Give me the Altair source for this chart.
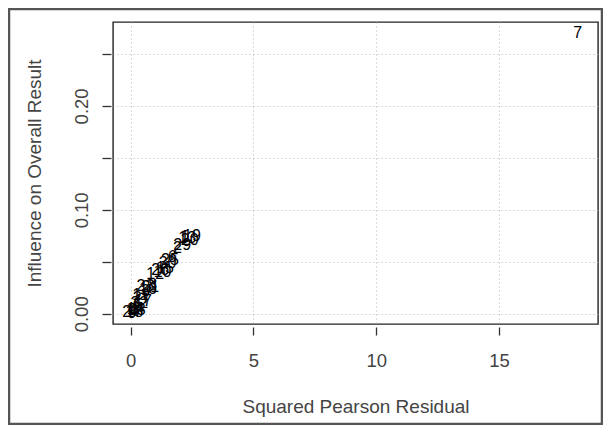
import altair as alt
import pandas as pd

study = ["1","2","3","4","5","6","7","8","9","10","11","12","13","14","15",
         "16","17","18","19","20","21","22","23","24","25","26","27","28","29","30"]
sq_resid = [2.2, 1.9, 0.6, 0.1, 0.3, 1.7, 18.2, 0.9, 0.05, 1.3, 0.4, 1.0, 2.3, 0.2, 1.4,
            0.7, 0.5, 0.15, 2.5, 2.4, 0.8, 0.35, 0.6, 0.02, 1.6, 1.2, 0.45, 0.25, 2.1, 1.5]
influence = [0.074, 0.063, 0.022, 0.003, 0.008, 0.055, 0.270, 0.028, 0.001, 0.040, 0.018, 0.038,
             0.073, 0.005, 0.044, 0.024, 0.012, 0.002, 0.075, 0.071, 0.026, 0.010, 0.027, 0.002,
             0.052, 0.042, 0.015, 0.004, 0.066, 0.049]

x_ticks = [0, 5, 10, 15]
y_ticks = [0.0, 0.05, 0.10, 0.15, 0.20, 0.25]

df = pd.DataFrame({"study": study, "x": sq_resid, "y": influence})

FONT = "Liberation Sans"
W, H = 485, 302

xscale = alt.Scale(domain=[-0.72, 19.03], nice=False, zero=False)
yscale = alt.Scale(domain=[-0.0098, 0.2807], nice=False, zero=False)

pts = alt.Chart(df).mark_text(font=FONT, fontSize=16, color="#000000").encode(
    x=alt.X("x:Q", scale=xscale,
            axis=alt.Axis(values=x_ticks, format="d", offset=3, tickSize=8, domain=False,
                          grid=True, gridDash=[1, 3], gridColor="#b5b5b5", gridWidth=1,
                          labelFontSize=18.5, labelFont=FONT, labelColor="#444444",
                          labelPadding=16, tickColor="#333333", tickWidth=1.3,
                          title="Squared Pearson Residual", titleFont=FONT, titleFontSize=19,
                          titleFontWeight="normal", titleColor="#444444",
                          titleBaseline="alphabetic", titleY=85.7)),
    y=alt.Y("y:Q", scale=yscale,
            axis=alt.Axis(values=y_ticks,
                          labelExpr="round(datum.value*100) % 10 == 0 ? format(datum.value, '.2f') : ''",
                          offset=2, tickSize=9, domain=False,
                          grid=True, gridDash=[1, 3], gridColor="#b5b5b5", gridWidth=1,
                          labelFontSize=18.5, labelFont=FONT, labelColor="#444444",
                          labelAngle=270, labelAlign="center", labelBaseline="bottom",
                          labelPadding=11, tickColor="#333333", tickWidth=1.3,
                          title="Influence on Overall Result", titleFont=FONT, titleFontSize=19,
                          titleFontWeight="normal", titleColor="#444444",
                          titleBaseline="alphabetic", titleX=-71)),
    text="study:N",
)

frame = alt.Chart(pd.DataFrame({"a": [0]})).mark_rect(
    fill=None, stroke="#555555", strokeWidth=2.5
).encode(
    x=alt.value(-104), x2=alt.value(489), y=alt.value(-13), y2=alt.value(402)
)

chart = alt.layer(frame, pts).properties(
    width=W, height=H,
    autosize=alt.AutoSizeParams(type="none"),
    padding={"left": 105, "top": 14, "right": 5, "bottom": 101},
).configure_view(stroke="#222222", strokeWidth=1.4)

chart.save("out.html", embed_options={"renderer": "svg", "actions": False})
